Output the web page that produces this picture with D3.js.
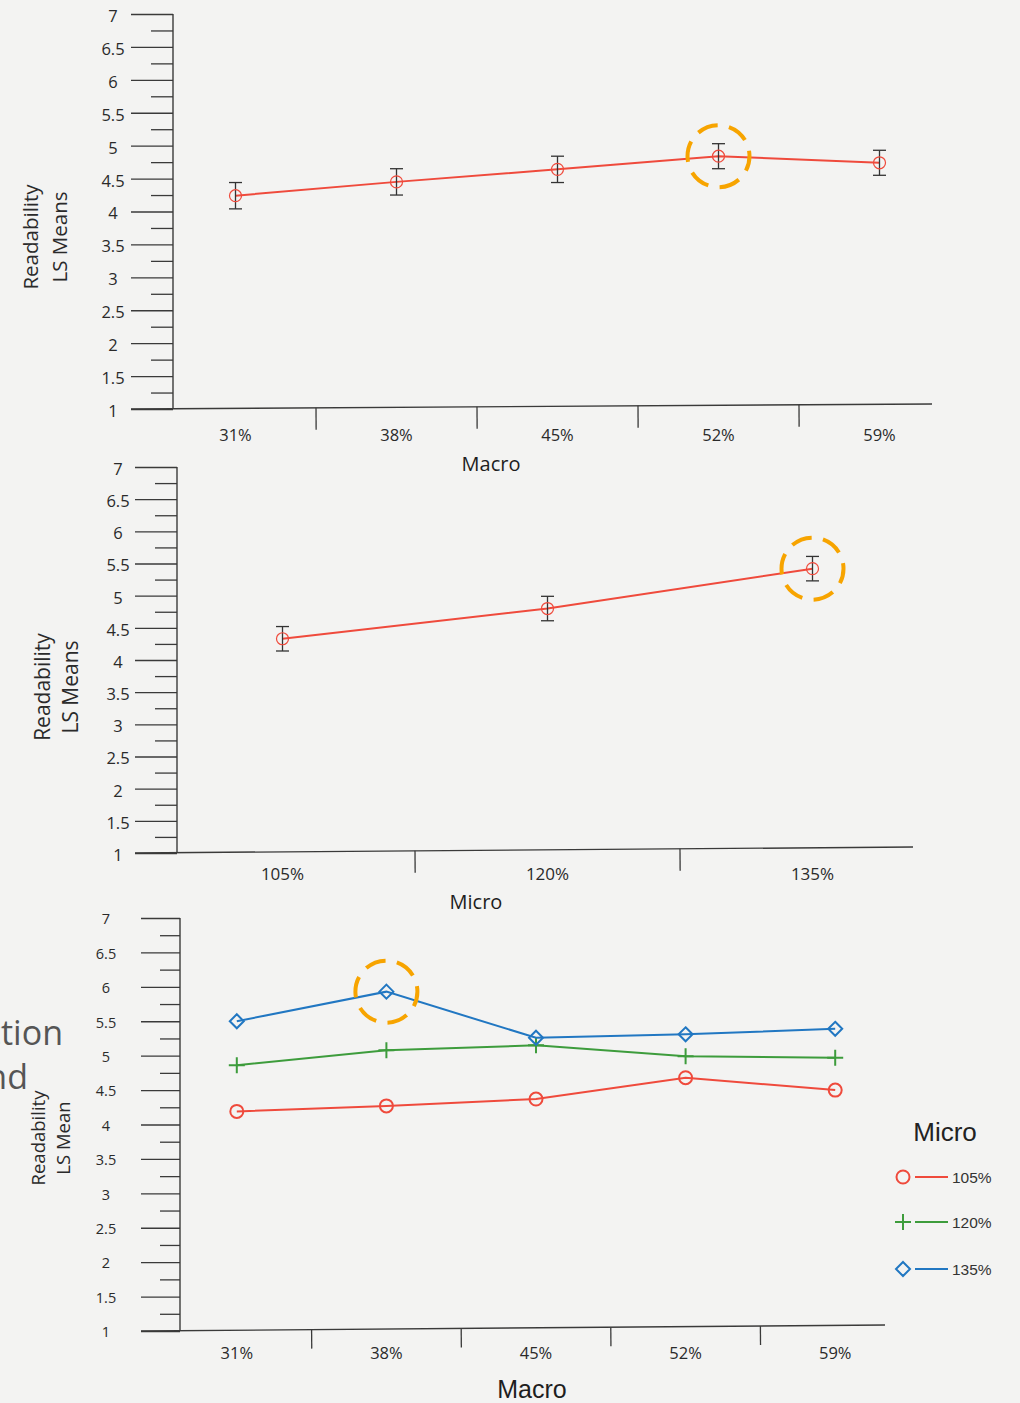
<!DOCTYPE html>
<html><head><meta charset="utf-8">
<script src="https://cdn.jsdelivr.net/npm/d3@7"></script>
<style>
body{margin:0;background:#f3f3f2}
svg{display:block}
</style>
</head><body>
<svg id="c" width="1020" height="1403"></svg>
<script>
// ---------- DATA ----------
const macroCats = ["31%", "38%", "45%", "52%", "59%"];
const microCats = ["105%", "120%", "135%"];
const yMajorTicks = [1, 1.5, 2, 2.5, 3, 3.5, 4, 4.5, 5, 5.5, 6, 6.5, 7];
const yMinorTicks = [1.25, 1.75, 2.25, 2.75, 3.25, 3.75, 4.25, 4.75, 5.25, 5.75, 6.25, 6.75];

// Panel 1: Readability LS Means by Macro
const macroMeans = [4.24, 4.45, 4.64, 4.84, 4.74];
const macroErr   = [0.20, 0.20, 0.20, 0.19, 0.19];

// Panel 2: Readability LS Means by Micro
const microMeans = [4.33, 4.80, 5.42];
const microErr   = [0.19, 0.19, 0.19];

// Panel 3: interaction Macro x Micro
const inter105 = [4.19, 4.27, 4.37, 4.68, 4.50];
const inter120 = [4.86, 5.08, 5.15, 4.99, 4.97];
const inter135 = [5.50, 5.93, 5.26, 5.31, 5.39];
const legendLabels = ["105%", "120%", "135%"];

const highlight1 = "52%";
const highlight2 = "135%";
const highlight3 = { series: 2, cat: "38%" };

// ---------- STYLE ----------
const RED = "#ef4a3c", GREEN = "#3d9c3c", BLUE = "#2177c2", ORANGE = "#f7a400";
const AX = "#3a3a3a";
const FONT = "'Open Sans', 'Noto Sans', sans-serif";
const svg = d3.select("#c");
svg.append("rect").attr("width", 1020).attr("height", 1403).attr("fill", "#f3f3f2");

function yAxisPanel(cfg) {
  const y = d3.scaleLinear().domain([1, 7]).range([cfg.yBot, cfg.yTop]);
  const g = svg.append("g").attr("transform", `translate(${cfg.axX},0)`);
  const major = g.append("g").call(
    d3.axisLeft(y).tickValues(yMajorTicks).tickSize(cfg.majorLen)
      .tickFormat(d3.format("~g")).tickPadding(0)
  );
  major.select(".domain").remove();
  major.selectAll(".tick line").attr("stroke", AX).attr("stroke-width", 1.3);
  major.selectAll(".tick text")
    .attr("x", cfg.labelX - cfg.axX)
    .attr("dy", cfg.labelDy)
    .attr("text-anchor", "middle")
    .attr("fill", "#2a2a2a")
    .style("font-family", FONT)
    .style("font-size", cfg.tickFont + "px");
  const minor = g.append("g").call(
    d3.axisLeft(y).tickValues(yMinorTicks).tickSize(cfg.minorLen).tickFormat("")
  );
  minor.select(".domain").remove();
  minor.selectAll(".tick line").attr("stroke", AX).attr("stroke-width", 1.3);
  g.append("line").attr("x1", 0).attr("x2", 0)
    .attr("y1", y(7)).attr("y2", cfg.yBot).attr("stroke", AX).attr("stroke-width", 1.4);
  const lab = svg.append("text")
    .attr("transform", `translate(${cfg.ylabX},${cfg.ylabY}) rotate(-90)`)
    .attr("text-anchor", "middle").attr("fill", "#2a2a2a")
    .style("font-family", FONT)
    .style("font-size", cfg.ylabFont + "px");
  lab.append("tspan").attr("x", 0).attr("dy", 0).text("Readability");
  lab.append("tspan").attr("x", 0).attr("dy", cfg.ylabGap).text(cfg.ylab2);
  return y;
}

function xAxisPanel(cfg, cats) {
  const x = d3.scaleBand().domain(cats).range(cfg.bandRange);
  const g = svg.append("g")
    .attr("transform", `rotate(${cfg.tilt},${cfg.xLineFrom},${cfg.yBot})`);
  g.append("line").attr("x1", cfg.xLineFrom).attr("x2", cfg.xLineTo)
    .attr("y1", cfg.yBot).attr("y2", cfg.yBot).attr("stroke", AX).attr("stroke-width", 1.4);
  g.selectAll("line.sep").data(cats.slice(1)).join("line").attr("class", "sep")
    .attr("x1", d => x(d)).attr("x2", d => x(d))
    .attr("y1", cfg.yBot).attr("y2", cfg.yBot + cfg.sepLen)
    .attr("stroke", AX).attr("stroke-width", 1.3);
  const lab = svg.append("g").attr("transform", `translate(0,${cfg.yBot})`)
    .call(d3.axisBottom(x).tickSize(0).tickPadding(cfg.xLabPad));
  lab.select(".domain").remove();
  lab.selectAll("text").attr("fill", "#2a2a2a")
    .style("font-family", FONT)
    .style("font-size", cfg.xTickFont + "px");
  svg.append("text").attr("x", cfg.titleX).attr("y", cfg.titleY)
    .attr("text-anchor", "middle").attr("fill", "#1e1e1e")
    .style("font-family", cfg.titleFamily)
    .style("font-size", cfg.titleFont + "px").text(cfg.title);
  return x;
}

function highlightRing(cx, cy) {
  svg.append("circle").attr("cx", cx).attr("cy", cy).attr("r", 31)
    .attr("fill", "none").attr("stroke", ORANGE).attr("stroke-width", 4)
    .attr("stroke-dasharray", "21 11.5").attr("stroke-dashoffset", 6);
}

function meansPanel(cfg, cats, means, errs, hl) {
  const y = yAxisPanel(cfg);
  const x = xAxisPanel(cfg, cats);
  const data = cats.map((c, i) => ({ c, m: means[i], e: errs[i] }));
  const cx = d => x(d.c) + x.bandwidth() / 2;
  svg.append("path").datum(data)
    .attr("d", d3.line().x(cx).y(d => y(d.m)))
    .attr("fill", "none").attr("stroke", RED).attr("stroke-width", 2);
  const eb = svg.append("g").attr("stroke", "#333").attr("stroke-width", 1.3);
  eb.selectAll("line.v").data(data).join("line")
    .attr("x1", cx).attr("x2", cx).attr("y1", d => y(d.m + d.e)).attr("y2", d => y(d.m - d.e));
  eb.selectAll("line.t").data(data).join("line")
    .attr("x1", d => cx(d) - 6.5).attr("x2", d => cx(d) + 6.5)
    .attr("y1", d => y(d.m + d.e)).attr("y2", d => y(d.m + d.e));
  eb.selectAll("line.b").data(data).join("line")
    .attr("x1", d => cx(d) - 6.5).attr("x2", d => cx(d) + 6.5)
    .attr("y1", d => y(d.m - d.e)).attr("y2", d => y(d.m - d.e));
  svg.append("g").selectAll("circle").data(data).join("circle")
    .attr("cx", cx).attr("cy", d => y(d.m)).attr("r", 6)
    .attr("fill", "none").attr("stroke", RED).attr("stroke-width", 1.2);
  const h = data.find(d => d.c === hl);
  highlightRing(cx(h), y(h.m));
}

// ---------- PANEL 1 ----------
meansPanel({
  axX: 173, yTop: 14, yBot: 409, majorLen: 42, minorLen: 22, labelX: 113, labelDy: "0.45em", tickFont: 16.5,
  ylabX: 38, ylabY: 237, ylabFont: 20.5, ylabGap: 29, ylab2: "LS Means",
  bandRange: [155, 960], xLineFrom: 131, xLineTo: 932, tilt: -0.36, sepLen: 22,
  xLabPad: 20, xTickFont: 16.5,
  title: "Macro", titleX: 491, titleY: 471, titleFont: 20, titleFamily: FONT
}, macroCats, macroMeans, macroErr, highlight1);

// ---------- PANEL 2 ----------
meansPanel({
  axX: 177, yTop: 467, yBot: 853, majorLen: 42, minorLen: 22, labelX: 118, labelDy: "0.45em", tickFont: 16.5,
  ylabX: 50, ylabY: 687, ylabFont: 21, ylabGap: 28, ylab2: "LS Means",
  bandRange: [150, 945], xLineFrom: 135, xLineTo: 913, tilt: -0.44, sepLen: 22,
  xLabPad: 15, xTickFont: 17,
  title: "Micro", titleX: 476, titleY: 909, titleFont: 20, titleFamily: FONT
}, microCats, microMeans, microErr, highlight2);

// ---------- PANEL 3 ----------
(function () {
  const cfg = {
    axX: 180, yTop: 918, yBot: 1331, majorLen: 39, minorLen: 20, labelX: 106, labelDy: "0.4em", tickFont: 14.5,
    ylabX: 45, ylabY: 1138, ylabFont: 18.5, ylabGap: 25, ylab2: "LS Mean",
    bandRange: [162, 910], xLineFrom: 141, xLineTo: 885, tilt: -0.46, sepLen: 19,
    xLabPad: 16, xTickFont: 16.5,
    title: "Macro", titleX: 532, titleY: 1398, titleFont: 25,
    titleFamily: "'Liberation Sans', Arial, sans-serif"
  };
  const y = yAxisPanel(cfg);
  const x = xAxisPanel(cfg, macroCats);
  const cx = c => x(c) + x.bandwidth() / 2;
  const series = [
    { vals: inter105, color: RED, shape: "circle" },
    { vals: inter120, color: GREEN, shape: "plus" },
    { vals: inter135, color: BLUE, shape: "diamond" }
  ];
  function marker(g, shape, color) {
    if (shape === "circle") {
      g.append("circle").attr("r", 6.5).attr("fill", "none").attr("stroke", color).attr("stroke-width", 2);
    } else if (shape === "plus") {
      g.append("path").attr("d", "M-8,0H8M0,-8V8").attr("stroke", color).attr("stroke-width", 2);
    } else {
      g.append("path").attr("d", "M0,-7L7,0L0,7L-7,0Z").attr("fill", "none").attr("stroke", color).attr("stroke-width", 2);
    }
  }
  series.forEach(s => {
    const pts = macroCats.map((c, i) => ({ c, v: s.vals[i] }));
    svg.append("path").datum(pts)
      .attr("d", d3.line().x(d => cx(d.c)).y(d => y(d.v)))
      .attr("fill", "none").attr("stroke", s.color).attr("stroke-width", 2);
    pts.forEach(d => {
      const g = svg.append("g").attr("transform", `translate(${cx(d.c)},${y(d.v)})`);
      marker(g, s.shape, s.color);
    });
  });
  const hs = series[highlight3.series];
  highlightRing(cx(highlight3.cat), y(hs.vals[macroCats.indexOf(highlight3.cat)]));

  // Legend
  const lg = svg.append("g").attr("transform", "translate(903,1177)");
  lg.append("text").attr("x", 42).attr("y", -36).attr("text-anchor", "middle")
    .attr("fill", "#222").style("font-family", "'Liberation Sans', Arial, sans-serif")
    .style("font-size", "26px").text("Micro");
  series.forEach((s, i) => {
    const row = lg.append("g").attr("transform", `translate(0,${[0, 45, 92][i]})`);
    marker(row, s.shape, s.color);
    row.append("line").attr("x1", 12).attr("x2", 45).attr("y1", 0).attr("y2", 0)
      .attr("stroke", s.color).attr("stroke-width", 2);
    row.append("text").attr("x", 49).attr("y", 5.5).attr("fill", "#333")
      .style("font-family", "'Liberation Sans', Arial, sans-serif")
      .style("font-size", "15.5px").text(legendLabels[i]);
  });

  // cropped fragment of surrounding slide text (cut by the left edge in the reference)
  const frag = svg.append("text").attr("text-anchor", "end").attr("fill", "#555")
    .style("font-family", FONT).style("font-size", "34px");
  frag.append("tspan").attr("x", 63).attr("y", 1045).text("ction");
  frag.append("tspan").attr("x", 28).attr("y", 1089).text("nd");
})();
</script>
</body></html>
